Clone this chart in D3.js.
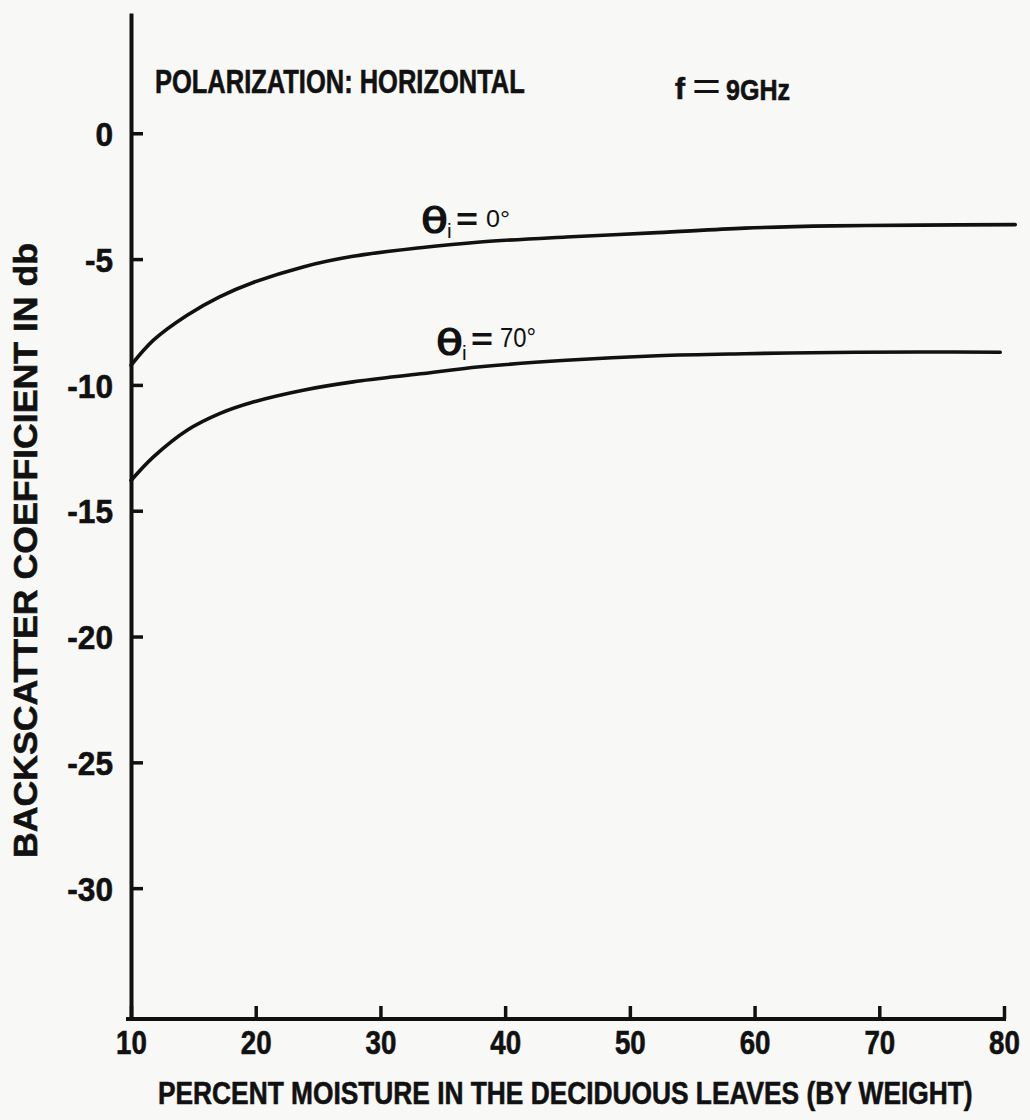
<!DOCTYPE html>
<html>
<head>
<meta charset="utf-8">
<script src="https://cdn.jsdelivr.net/npm/d3@7"></script>
<style>
  html, body { margin: 0; padding: 0; background: #f8f8f7; }
  svg { display: block; }
  .lbl { font-family: 'Liberation Sans', Arial, sans-serif; font-weight: bold; fill: #111; stroke: #111; stroke-width: 0.6px; }
</style>
</head>
<body>
<svg id="chart" width="1030" height="1120"></svg>
<script>
// Backscatter coefficient vs. leaf moisture, horizontal polarization, 9 GHz
const moisture0    = [10, 11.8, 14.5, 17.1, 19.8, 23.8, 27.8, 33.2, 38, 44.9, 52.2, 59.2, 66.3, 73.3, 80.9];
const backscatter0 = [-9.22, -8.22, -7.23, -6.50, -5.93, -5.31, -4.89, -4.55, -4.32, -4.12, -3.95, -3.77, -3.68, -3.65, -3.63];

const moisture70    = [10, 11.8, 14.5, 17.1, 19.8, 23.8, 27.8, 33.2, 38, 44.9, 52.2, 59.2, 66.3, 73.3, 79.7];
const backscatter70 = [-13.8, -12.86, -11.80, -11.14, -10.68, -10.21, -9.88, -9.56, -9.28, -9.02, -8.84, -8.76, -8.71, -8.69, -8.70];

const xTicks = [10, 20, 30, 40, 50, 60, 70, 80];
const yTicks = [0, -5, -10, -15, -20, -25, -30];
const yTickLabels = ["0", "-5", "-10", "-15", "-20", "-25", "-30"];

const svg = d3.select("#chart");
const ink = "#111";

// squeeze a text horizontally to a condensed face of the same height
function condense(sel, factor) {
  sel.each(function () {
    const w = this.getComputedTextLength();
    d3.select(this).attr("textLength", w * factor).attr("lengthAdjust", "spacingAndGlyphs");
  });
}

// place a text at (x, y) scaled horizontally so that it spans `width`
function fitText(parent, x, y, width, size, str) {
  const t = parent.append("text").attr("class", "lbl").attr("font-size", size).text(str);
  const w = t.node().getComputedTextLength();
  t.attr("transform", `translate(${x},${y}) scale(${width / w},1)`);
  return t;
}

const x = d3.scaleLinear().domain([10, 80]).range([131, 1004]);
const y = d3.scaleLinear().domain([-35.2, 4.78]).range([1019, 13]);

// Y axis: ticks point inward, labels to the left
const yAxis = d3.axisLeft(y)
  .tickValues(yTicks)
  .tickFormat((d, i) => yTickLabels[i])
  .tickSizeInner(-12)
  .tickSizeOuter(0)
  .tickPadding(18);

const gy = svg.append("g").attr("transform", `translate(${x(10)},0)`).call(yAxis);
gy.attr("font-family", null).attr("font-size", null);
gy.select(".domain").attr("stroke", ink).attr("stroke-width", 4);
gy.selectAll(".tick line").attr("stroke", ink).attr("stroke-width", 3.5);
gy.selectAll(".tick text")
  .attr("class", "lbl")
  .attr("font-size", 34)
  .attr("dy", "0.36em")
  .call(condense, 0.93);

// X axis: ticks point up into the plot
const xAxis = d3.axisBottom(x)
  .tickValues(xTicks)
  .tickFormat(d3.format("d"))
  .tickSizeInner(-13)
  .tickSizeOuter(0)
  .tickPadding(12);

const gx = svg.append("g").attr("transform", `translate(0,${y(-35.2)})`).call(xAxis);
gx.attr("font-family", null).attr("font-size", null);
gx.select(".domain").attr("stroke", ink).attr("stroke-width", 4)
  .attr("d", `M${x(10) - 5},0H${x(80) + 2}`);
gx.selectAll(".tick line").attr("stroke", ink).attr("stroke-width", 3.5);
gx.selectAll(".tick text")
  .attr("class", "lbl")
  .attr("font-size", 33)
  .attr("dy", "0.71em")
  .call(condense, 0.84);

// Curves
const line = d3.line()
  .x(d => x(d[0]))
  .y(d => y(d[1]))
  .curve(d3.curveCatmullRom.alpha(0.5));

const series = [
  d3.zip(moisture0, backscatter0),
  d3.zip(moisture70, backscatter70)
];

svg.append("g").selectAll("path")
  .data(series)
  .join("path")
  .attr("d", line)
  .attr("fill", "none")
  .attr("stroke", ink)
  .attr("stroke-width", 3.6)
  .attr("stroke-linecap", "round");

// Titles
fitText(svg, 155, 93, 370, 33, "POLARIZATION: HORIZONTAL");

fitText(svg, 675, 99, 10, 29, "f");
svg.append("text")
  .attr("x", 692).attr("y", 100).attr("font-size", 40).attr("fill", ink)
  .attr("font-family", "'Liberation Sans', Arial, sans-serif")
  .attr("textLength", 29).attr("lengthAdjust", "spacingAndGlyphs")
  .text("=");
fitText(svg, 726, 100, 64, 30, "9GHz");

// Axis titles
fitText(svg, 158, 1104, 815, 32, "PERCENT MOISTURE IN THE DECIDUOUS LEAVES (BY WEIGHT)");

svg.append("text").attr("class", "lbl")
  .attr("transform", "translate(37,858) rotate(-90)")
  .attr("font-size", 33)
  .attr("textLength", 615).attr("lengthAdjust", "spacingAndGlyphs")
  .text("BACKSCATTER COEFFICIENT IN db");

// Curve labels: incidence angle for each curve
const curveLabels = [
  { x: 421, y: 233, eqY: 230, angle: "0°",  angleX: 486, angleY: 227, angleSize: 24, angleW: 24 },
  { x: 436, y: 355, eqY: 350, angle: "70°", angleX: 500, angleY: 347, angleSize: 28, angleW: 36 }
];

const labelG = svg.append("g").attr("fill", ink);
curveLabels.forEach(l => {
  labelG.append("text")
    .attr("x", l.x).attr("y", l.y)
    .attr("font-family", "'DejaVu Sans', sans-serif")
    .attr("stroke", ink).attr("stroke-width", 1.2)
    .attr("font-size", 35)
    .attr("textLength", 27).attr("lengthAdjust", "spacingAndGlyphs")
    .text("\u03b8");
  labelG.append("text")
    .attr("x", l.x + 26).attr("y", l.y + 5)
    .attr("font-family", "'Liberation Sans', sans-serif")
    .attr("font-size", 21)
    .text("i");
  labelG.append("text")
    .attr("x", l.x + 35).attr("y", l.eqY)
    .attr("font-family", "'Liberation Sans', sans-serif").attr("font-weight", "bold")
    .attr("font-size", 32)
    .attr("textLength", 22).attr("lengthAdjust", "spacingAndGlyphs")
    .text("=");
  labelG.append("text")
    .attr("x", l.angleX).attr("y", l.angleY)
    .attr("font-family", "'Liberation Sans', sans-serif")
    .attr("font-size", l.angleSize)
    .attr("textLength", l.angleW).attr("lengthAdjust", "spacingAndGlyphs")
    .text(l.angle);
});
</script>
</body>
</html>
